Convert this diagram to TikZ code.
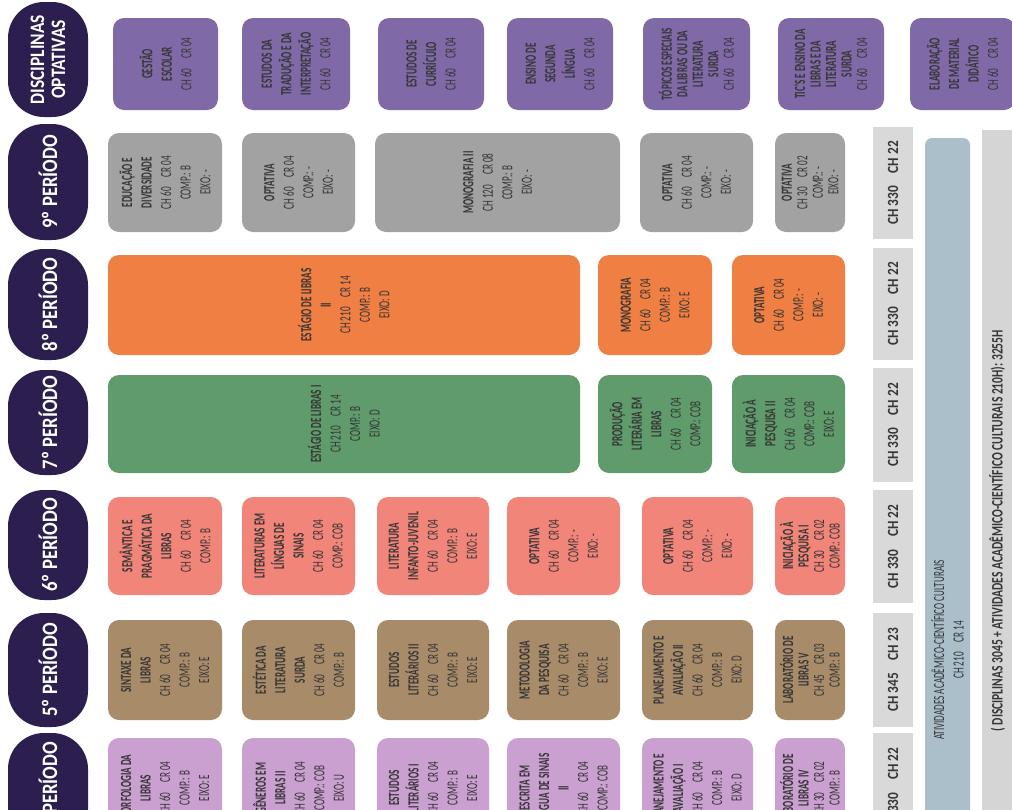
\documentclass[tikz,border=0pt]{standalone}
\usepackage{fontspec}
\setmainfont{Carlito}
\newfontfamily\bxf[FakeStretch=0.59]{Carlito}
\newfontfamily\plf[FakeStretch=0.85]{Carlito}
\newfontfamily\stf[FakeStretch=0.86]{Carlito}
\newfontfamily\ttf[FakeStretch=0.72]{Carlito}
\definecolor{navy}{HTML}{2C1F4F}
\definecolor{purp}{HTML}{7F6AA7}
\definecolor{grayb}{HTML}{A2A2A2}
\definecolor{orng}{HTML}{F07F43}
\definecolor{grn}{HTML}{5F9B6B}
\definecolor{salm}{HTML}{F2857A}
\definecolor{brwn}{HTML}{A88B69}
\definecolor{lilac}{HTML}{C9A0CF}
\definecolor{stripg}{HTML}{D9D9D9}
\definecolor{blueb}{HTML}{AABFC9}
\definecolor{totg}{HTML}{D5D5D5}
\definecolor{txt}{HTML}{363636}
\tikzset{
  cellbox/.style={rounded corners=11pt, rotate=90, align=center, inner sep=0pt, text=txt,
    font=\bxf\fontsize{15.5}{19.5}\selectfont},
  pill/.style={rounded corners=36pt, rotate=90, fill=navy, text=white, align=center, inner sep=0pt,
    font=\plf\bfseries\fontsize{22}{21}\selectfont},
  strip/.style={rotate=90, fill=stripg, inner sep=0pt, text=txt,
    font=\stf\bfseries\fontsize{15.5}{18}\selectfont},
  tight/.style={font=\bxf\fontsize{15.5}{15.5}\selectfont},
}
\newcommand\cellat[8][]{\node[cellbox,fill=#3,minimum width={#7-#5},minimum height={#6-#4},#1] (#2) at ({(#4+#6)/2},{(#5+#7)/2}) {#8};}
\newcommand\pillat[5][]{\node[pill,minimum width={#5-#4},minimum height=80,#1] (#2) at (48,{(#4+#5)/2}) {#3};}
\newcommand\cc[2]{CH #1\hspace{10pt}CR #2}
\begin{document}
\begin{tikzpicture}[x=1pt,y=-1pt]
\useasboundingbox (0,0) rectangle (1012,809);
\clip (0,0) rectangle (1012,809);
\fill[white] (0,0) rectangle (1012,809);
% pills
\pillat[font=\plf\bfseries\fontsize{20.5}{21}\selectfont]{pD}{DISCIPLINAS\\OPTATIVAS}{2}{117}
\pillat{p9}{9º PERÍODO}{124}{240}
\pillat{p8}{8º PERÍODO}{249}{360}
\pillat{p7}{7º PERÍODO}{370}{475}
\pillat{p6}{6º PERÍODO}{490}{600}
\pillat{p5}{5º PERÍODO}{613}{727}
\pillat{p4}{4º PERÍODO}{733}{845}
% optativas
\cellat{d1}{purp}{113}{18}{218}{110}{\textbf{GESTÃO}\\\textbf{ESCOLAR}\\\cc{60}{04}}
\cellat{d2}{purp}{242}{18}{350}{110}{\textbf{ESTUDOS DA}\\\textbf{TRADUÇÃO E DA}\\\textbf{INTERPRETAÇÃO}\\\cc{60}{04}}
\cellat{d3}{purp}{378}{18}{484}{110}{\textbf{ESTUDOS DE}\\\textbf{CURRÍCULO}\\\cc{60}{04}}
\cellat{d4}{purp}{507}{18}{613}{110}{\textbf{ENSINO DE}\\\textbf{SEGUNDA}\\\textbf{LÍNGUA}\\\cc{60}{04}}
\cellat[tight]{d5}{purp}{643}{18}{750}{110}{\textbf{TÓPICOS ESPECIAIS}\\\textbf{DA LIBRAS OU DA}\\\textbf{LITERATURA}\\\textbf{SURDA}\\\cc{60}{04}}
\cellat[tight]{d6}{purp}{778}{18}{884}{110}{\textbf{TIC'S E ENSINO DA}\\\textbf{LIBRAS E DA}\\\textbf{LITERATURA}\\\textbf{SURDA}\\\cc{60}{04}}
\cellat{d7}{purp}{910}{18}{1015}{110}{\textbf{ELABORAÇÃO}\\\textbf{DE MATERIAL}\\\textbf{DIDÁTICO}\\\cc{60}{04}}
% 9
\cellat{n1}{grayb}{108}{133}{222}{232}{\textbf{EDUCAÇÃO E}\\\textbf{DIVERSIDADE}\\\cc{60}{04}\\COMP.: B\\EIXO: -}
\cellat{n2}{grayb}{242}{133}{355}{232}{\textbf{OPTATIVA}\\\cc{60}{04}\\COMP.: -\\EIXO: -}
\cellat{n3}{grayb}{375}{133}{620}{232}{\textbf{MONOGRAFIA II}\\\cc{120}{08}\\COMP.: B\\EIXO: -}
\cellat{n4}{grayb}{640}{133}{753}{232}{\textbf{OPTATIVA}\\\cc{60}{04}\\COMP.: -\\EIXO: -}
\cellat[tight]{n5}{grayb}{775}{133}{845}{232}{\textbf{OPTATIVA}\\\cc{30}{02}\\COMP.: -\\EIXO: -}
% 8
\cellat{e1}{orng}{108}{255}{580}{355}{\textbf{ESTÁGIO DE LIBRAS}\\\textbf{II}\\\cc{210}{14}\\COMP.: B\\EIXO: D}
\cellat{e2}{orng}{598}{255}{712}{355}{\textbf{MONOGRAFIA}\\\cc{60}{04}\\COMP.: B\\EIXO: E}
\cellat{e3}{orng}{732}{255}{845}{355}{\textbf{OPTATIVA}\\\cc{60}{04}\\COMP.: -\\EIXO: -}
% 7
\cellat{s1}{grn}{108}{375}{580}{473}{\textbf{ESTÁGIO DE LIBRAS I}\\\cc{210}{14}\\COMP.: B\\EIXO: D}
\cellat{s2}{grn}{598}{375}{712}{473}{\textbf{PRODUÇÃO}\\\textbf{LITERÁRIA EM}\\\textbf{LIBRAS}\\\cc{60}{04}\\COMP.: COB}
\cellat{s3}{grn}{732}{375}{845}{473}{\textbf{INICIAÇÃO À}\\\textbf{PESQUISA II}\\\cc{60}{04}\\COMP.: COB\\EIXO: E}
% 6
\cellat{x1}{salm}{108}{497}{222}{595}{\textbf{SEMÂNTICA E}\\\textbf{PRAGMÁTICA DA}\\\textbf{LIBRAS}\\\cc{60}{04}\\COMP.: B}
\cellat{x2}{salm}{242}{497}{355}{595}{\textbf{LITERATURAS EM}\\\textbf{LÍNGUAS DE}\\\textbf{SINAIS}\\\cc{60}{04}\\COMP.: COB}
\cellat{x3}{salm}{377}{497}{489}{595}{\textbf{LITERATURA}\\\textbf{INFANTO-JUVENIL}\\\cc{60}{04}\\COMP.: B\\EIXO: E}
\cellat{x4}{salm}{507}{497}{620}{595}{\textbf{OPTATIVA}\\\cc{60}{04}\\COMP.: -\\EIXO: -}
\cellat{x5}{salm}{642}{497}{753}{595}{\textbf{OPTATIVA}\\\cc{60}{04}\\COMP.: -\\EIXO: -}
\cellat[tight]{x6}{salm}{775}{497}{845}{595}{\textbf{INICIAÇÃO À}\\\textbf{PESQUISA I}\\\cc{30}{02}\\COMP.: COB}
% 5
\cellat{f1}{brwn}{108}{620}{222}{720}{\textbf{SINTAXE DA}\\\textbf{LIBRAS}\\\cc{60}{04}\\COMP.: B\\EIXO: E}
\cellat{f2}{brwn}{242}{620}{355}{720}{\textbf{ESTÉTICA DA}\\\textbf{LITERATURA}\\\textbf{SURDA}\\\cc{60}{04}\\COMP.: B}
\cellat{f3}{brwn}{377}{620}{489}{720}{\textbf{ESTUDOS}\\\textbf{LITERÁRIOS II}\\\cc{60}{04}\\COMP.: B\\EIXO: E}
\cellat{f4}{brwn}{507}{620}{620}{720}{\textbf{METODOLOGIA}\\\textbf{DA PESQUISA}\\\cc{60}{04}\\COMP.: B\\EIXO: E}
\cellat{f5}{brwn}{642}{620}{753}{720}{\textbf{PLANEJAMENTO E}\\\textbf{AVALIAÇÃO II}\\\cc{60}{04}\\COMP.: B\\EIXO: D}
\cellat[tight]{f6}{brwn}{775}{620}{845}{720}{\textbf{LABORATÓRIO DE}\\\textbf{LIBRAS V}\\\cc{45}{03}\\COMP.: B}
% 4
\cellat{q1}{lilac}{108}{738}{222}{838}{\textbf{MORFOLOGIA DA}\\\textbf{LIBRAS}\\\cc{60}{04}\\COMP.: B\\EIXO: E}
\cellat{q2}{lilac}{242}{738}{355}{838}{\textbf{GÊNEROS EM}\\\textbf{LIBRAS II}\\\cc{60}{04}\\COMP.: COB\\EIXO: U}
\cellat{q3}{lilac}{377}{738}{489}{838}{\textbf{ESTUDOS}\\\textbf{LITERÁRIOS I}\\\cc{60}{04}\\COMP.: B\\EIXO: E}
\cellat{q4}{lilac}{507}{738}{620}{838}{\textbf{ESCRITA EM}\\\textbf{LÍNGUA DE SINAIS}\\\textbf{II}\\\cc{60}{04}\\COMP.: COB}
\cellat{q5}{lilac}{642}{738}{753}{838}{\textbf{PLANEJAMENTO E}\\\textbf{AVALIAÇÃO I}\\\cc{60}{04}\\COMP.: B\\EIXO: D}
\cellat[tight]{q6}{lilac}{775}{738}{845}{838}{\textbf{LABORATÓRIO DE}\\\textbf{LIBRAS IV}\\\cc{30}{02}\\COMP.: B}
% strips
\node[strip,minimum width=112,minimum height=40] (c9) at (893,183) {CH 330\hspace{13pt}CH 22};
\node[strip,minimum width=112,minimum height=40] (c8) at (893,304) {CH 330\hspace{13pt}CH 22};
\node[strip,minimum width=114,minimum height=40] (c7) at (893,425) {CH 330\hspace{13pt}CH 22};
\node[strip,minimum width=113,minimum height=40] (c6) at (893,546.5) {CH 330\hspace{13pt}CH 22};
\node[strip,minimum width=114,minimum height=40] (c5) at (893,670) {CH 345\hspace{13pt}CH 23};
\node[strip,minimum width=113,minimum height=40] (c4) at (893,789.5) {CH 330\hspace{13pt}CH 22};
% activity bar
\node[cellbox,fill=blueb,rounded corners=7pt,minimum width=1024,minimum height=45] (act) at (947.5,650)
  {ATIVIDADES ACADÊMICO-CIENTÍFICO CULTURAIS\\\cc{210}{14}};
% total bar
\node[rotate=90,fill=totg,inner sep=0pt,minimum width=1100,minimum height=60] (totbar) at (1012,680) {};
\node[rotate=90,anchor=east,inner sep=0pt,text=txt,font=\ttf\bfseries\fontsize{16}{18}\selectfont] (tot) at (997,330)
  {( DISCIPLINAS 3045 + ATIVIDADES ACADÊMICO-CIENTÍFICO CULTURAIS 210H): 3255H};
\end{tikzpicture}
\end{document}
